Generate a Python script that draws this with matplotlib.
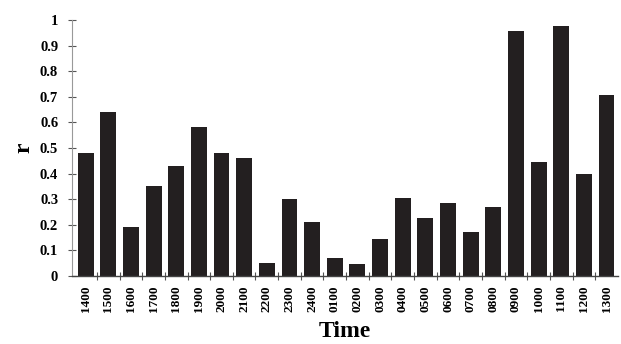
import matplotlib
matplotlib.use("Agg")
import matplotlib.pyplot as plt
import numpy as np

times = ["1400", "1500", "1600", "1700", "1800", "1900", "2000", "2100",
         "2200", "2300", "2400", "0100", "0200", "0300", "0400", "0500",
         "0600", "0700", "0800", "0900", "1000", "1100", "1200", "1300"]
r_values = [0.48, 0.64, 0.19, 0.35, 0.43, 0.58, 0.48, 0.46,
            0.05, 0.30, 0.21, 0.07, 0.045, 0.145, 0.305, 0.225,
            0.285, 0.17, 0.27, 0.955, 0.445, 0.975, 0.40, 0.705]
y_ticks = [0, 0.1, 0.2, 0.3, 0.4, 0.5, 0.6, 0.7, 0.8, 0.9, 1]
y_tick_labels = ["0", "0.1", "0.2", "0.3", "0.4", "0.5", "0.6", "0.7", "0.8", "0.9", "1"]

plt.rcParams["font.family"] = ["Liberation Serif", "DejaVu Serif"]
plt.rcParams["font.weight"] = "bold"

fig = plt.figure(figsize=(6.21, 3.44), dpi=100)
ax = fig.add_axes([0.116, 0.198, 0.879, 0.744])

x = np.arange(len(times))
ax.bar(x, r_values, width=0.7, color="#231f20", edgecolor="none")

ax.set_xlim(-0.6, len(times) - 0.5)
ax.set_ylim(0, 1)

ax.set_xticks(x)
ax.set_xticklabels(times, rotation=90, fontsize=9.5, fontweight="bold")
ax.tick_params(axis="x", which="major", length=0, pad=7)
ax.set_xticks(x[:-1] + 0.5, minor=True)
ax.tick_params(axis="x", which="minor", length=6, direction="inout", width=0.8, color="#555555")

ax.set_yticks(y_ticks)
ax.set_yticklabels(y_tick_labels, fontsize=10.5, fontweight="bold")
ax.tick_params(axis="y", length=6, direction="inout", width=0.8, color="#555555", pad=7)

for side in ["top", "right"]:
    ax.spines[side].set_visible(False)
ax.spines["left"].set_color("#999999")
ax.spines["left"].set_linewidth(0.8)
ax.spines["bottom"].set_color("#444444")
ax.spines["bottom"].set_linewidth(1.0)

ax.set_xlabel("Time", fontsize=17, fontweight="bold", labelpad=6)
ax.set_ylabel("r", fontsize=17, fontweight="bold", labelpad=4)

fig.savefig("out.png", dpi=100)
